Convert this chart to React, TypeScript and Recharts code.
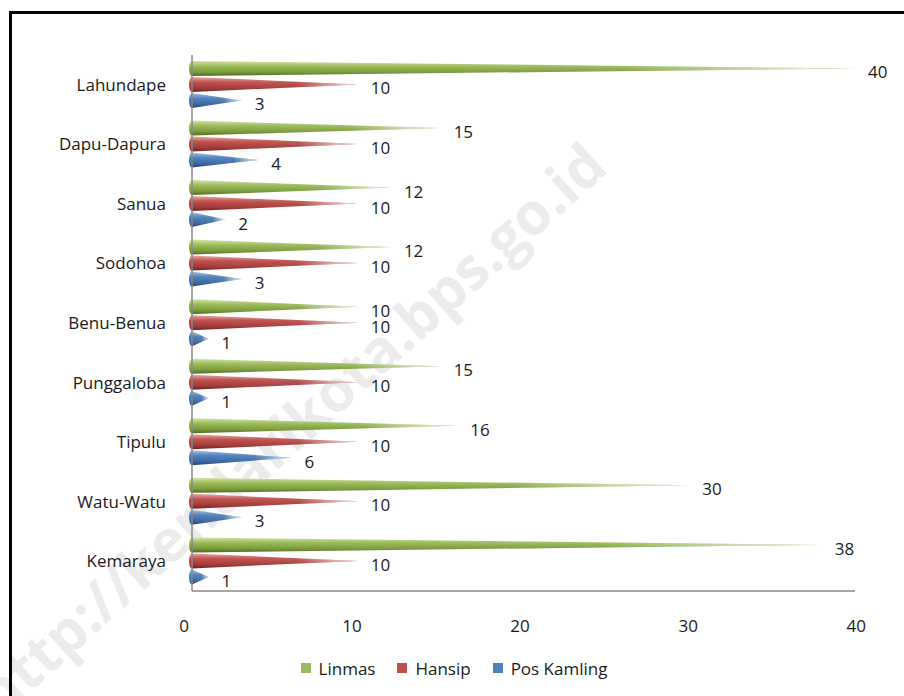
import { BarChart, Bar, XAxis, YAxis, LabelList, Legend } from "recharts";

const categories = [
  "Lahundape",
  "Dapu-Dapura",
  "Sanua",
  "Sodohoa",
  "Benu-Benua",
  "Punggaloba",
  "Tipulu",
  "Watu-Watu",
  "Kemaraya",
];
const linmas = [40, 15, 12, 12, 10, 15, 16, 30, 38];
const hansip = [10, 10, 10, 10, 10, 10, 10, 10, 10];
const posKamling = [3, 4, 2, 3, 1, 1, 6, 3, 1];
const xTicks = [0, 10, 20, 30, 40];

const data = categories.map((name, i) => ({
  name,
  linmas: linmas[i],
  hansip: hansip[i],
  posKamling: posKamling[i],
}));

const FONT = "'Open Sans', 'DejaVu Sans', sans-serif";
const TEXT = "#1a1a1a";
const FS = 17;

const series = [
  { key: "linmas", name: "Linmas", color: "#9bbb59", stops: ["#d3e5a6", "#9bbb59", "#7a9a3a", "#4f6a22"] },
  { key: "hansip", name: "Hansip", color: "#c0504d", stops: ["#eaa9a7", "#c0504d", "#a13a37", "#6e2220"] },
  { key: "posKamling", name: "Pos Kamling", color: "#4f81bd", stops: ["#a9c4e6", "#4f81bd", "#3a66a0", "#22426e"] },
];

function Cone(props: any) {
  const { x, y, width, height, dataKey } = props;
  if (!width || width <= 0) return null;
  const cy = y + height / 2;
  const rx = Math.min(height * 0.2, width);
  const d = `M${x},${y} L${x + width},${cy} L${x},${y + height} A${rx},${height / 2} 0 0 1 ${x},${y} Z`;
  return (
    <g>
      <path d={d} fill={`url(#cone-${dataKey})`} />
      <path d={d} fill="url(#cone-fade)" />
    </g>
  );
}

function renderLabel(props: any) {
  const vb = props.viewBox || props;
  const x = vb.x ?? props.x;
  const y = vb.y ?? props.y;
  const width = vb.width ?? props.width;
  const height = vb.height ?? props.height;
  return (
    <text x={x + width + 13} y={y + height / 2 + 4} dy="0.35em" fill={TEXT} fontSize={FS} fontFamily={FONT}>
      {props.value}
    </text>
  );
}

function XTick(props: any) {
  const { x, y, payload } = props;
  const v = payload.value;
  // the 3D projection pulls the low ticks a little to the left
  const shift = -8 + v * 0.23;
  return (
    <text x={x + shift} y={y} dy="0.71em" textAnchor="middle" fill={TEXT} fontSize={FS} fontFamily={FONT}>
      {v}
    </text>
  );
}

function LegendBox() {
  return (
    <div
      style={{
        height: 24,
        display: "flex",
        justifyContent: "center",
        alignItems: "center",
        paddingLeft: 26,
        fontFamily: FONT,
        fontSize: FS,
        color: TEXT,
      }}
    >
      {series.map((s) => (
        <div key={s.key} style={{ display: "flex", alignItems: "center", marginRight: 22 }}>
          <span style={{ width: 10, height: 10, background: s.color, marginRight: 8 }} />
          <span>{s.name}</span>
        </div>
      ))}
    </div>
  );
}

export default function App() {
  return (
    <div
      style={{
        position: "absolute",
        left: 0,
        top: 0,
        width: 904,
        height: 696,
        overflow: "hidden",
        background: "#fff",
      }}
    >
      <svg width={904} height={696} style={{ position: "absolute", left: 0, top: 0 }}>
        <text
          x={305}
          y={445}
          transform="rotate(-42 305 445)"
          textAnchor="middle"
          fontFamily={FONT}
          fontWeight="bold"
          fontSize={58}
          fill="#ebebeb"
        >
          http://kendarikota.bps.go.id
        </text>
      </svg>
      <div
        style={{
          position: "absolute",
          left: 9,
          top: 11,
          width: 960,
          height: 760,
          borderLeft: "3px solid #000",
          borderTop: "3px solid #000",
        }}
      />
      <div style={{ position: "absolute", left: 0, top: 0 }}>
        <BarChart
          width={904}
          height={696}
          data={data}
          layout="vertical"
          margin={{ top: 55, right: 49, left: 0, bottom: 51 }}
          barCategoryGap="10%"
          barGap={1}
        >
          <defs>
            {series.map((s) => (
              <linearGradient key={s.key} id={`cone-${s.key}`} x1="0" y1="0" x2="0" y2="1">
                <stop offset="0%" stopColor={s.stops[0]} />
                <stop offset="35%" stopColor={s.stops[1]} />
                <stop offset="75%" stopColor={s.stops[2]} />
                <stop offset="100%" stopColor={s.stops[3]} />
              </linearGradient>
            ))}
            <linearGradient id="cone-fade" x1="0" y1="0" x2="1" y2="0">
              <stop offset="0%" stopColor="#fff" stopOpacity={0} />
              <stop offset="65%" stopColor="#fff" stopOpacity={0.05} />
              <stop offset="100%" stopColor="#fff" stopOpacity={0.85} />
            </linearGradient>
          </defs>
          <XAxis
            type="number"
            domain={[0, 40]}
            ticks={xTicks}
            interval={0}
            tickLine={false}
            tickMargin={23}
            height={30}
            axisLine={{ stroke: "#888", strokeWidth: 1.5 }}
            tick={<XTick />}
          />
          <YAxis
            type="category"
            dataKey="name"
            width={192}
            tickLine={false}
            tickMargin={20}
            axisLine={{ stroke: "#888", strokeWidth: 1.5 }}
            tick={{ fill: TEXT, fontSize: FS, fontFamily: FONT }}
          />
          <Legend
            verticalAlign="bottom"
            content={<LegendBox />}
            wrapperStyle={{ left: 0, bottom: 16, width: 904 }}
          />
          {series.map((s) => (
            <Bar
              key={s.key}
              dataKey={s.key}
              name={s.name}
              fill={s.color}
              shape={<Cone dataKey={s.key} />}
              isAnimationActive={false}
            >
              <LabelList dataKey={s.key} content={renderLabel} />
            </Bar>
          ))}
        </BarChart>
      </div>
    </div>
  );
}
